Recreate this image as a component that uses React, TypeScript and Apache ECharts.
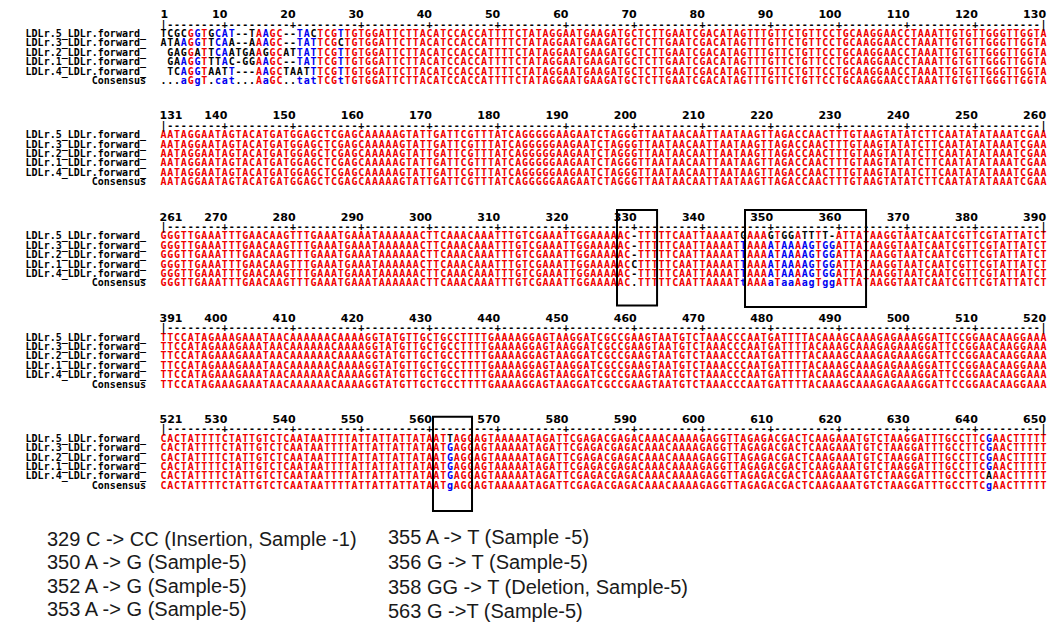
import React, { useEffect, useRef } from "react";
import * as echarts from "echarts";

// ---------- data ----------
const sequenceNames = [
  "LDLr.5_LDLr.forward_",
  "LDLr.3_LDLr.forward_",
  "LDLr.2_LDLr.forward_",
  "LDLr.1_LDLr.forward_",
  "LDLr.4_LDLr.forward_",
];
const consensusName = "Consensus";
const blockStartPositions = [1, 131, 261, 391, 521];

// "|" separates decades; " " = no residue
const block1Tail =
  "GGATTCTTAC|ATCCACCATT|TTCTATAGGA|ATGAAGATGC|TCTTGAATCG|ACATAGTTTG|TTCTGTTCCT|GCAAGGAACC|TAAATTGTGT|TGGGTTGGTA";
const block1Sequences = [
  "TCGCGGTGCA|T--TAAGC--|TACTCGTTGT|" + block1Tail,
  "ATAAGGTTCA|A--AAAGC--|TATTCGCTGT|" + block1Tail,
  " GAGGATTCA|ATGAAGGCAT|TATTCGTTGT|" + block1Tail,
  " GAAGGTTTA|C-GGAAGC--|TATTCGTTGT|" + block1Tail,
  " TCAGGTAAT|T---AAGCTA|ATTTCGTTGT|" + block1Tail,
];
const block1Consensus = "...aGgT.ca|t...AaGC..|tatTCGtTGT|" + block1Tail;

const block2Common =
  "AATAGGAATA|GTACATGATG|GAGCTCGAGC|AAAAAGTATT|GATTCGTTTA|TCAGGGGGAA|GAATCTAGGG|TTAATAACAA|TTAATAAGTT|AGACCAACTT|TGTAAGTATA|TCTTCAATAT|ATAAATCGAA";
const block2Sequences = [block2Common, block2Common, block2Common, block2Common, block2Common];
const block2Consensus = block2Common;

const block3Head = "GGGTTGAAAT|TTGAACAAGT|TTGAAATGAA|ATAAAAAACT|TCAAACAAAT|TTGTCGAAAT|";
const block3End = "|TTATAAGGTA|ATCAATCGTT|CGTATTATCT";
const block3Sequences = [
  block3Head + "TGGAAAAAC-|TTTTTCAATT|AAAATGAAAG|TGGATTTT-A" + block3End,
  block3Head + "TGGAAAAAC-|TTTTTCAATT|AAAATTAAAA|TAAAAGTGGA" + block3End,
  block3Head + "TGGAAAAAC-|TTTTTCAATT|AAAATTAAAA|TAAAAGTGGA" + block3End,
  block3Head + "TGGAAAAACC|TTTTTCAATT|AAAATTAAAA|TAAAAGTGGA" + block3End,
  block3Head + "TGGAAAAAC-|TTTTTCAATT|AAAATTAAAA|TAAAAGTGGA" + block3End,
];
const block3Consensus = block3Head + "TGGAAAAAC.|TTTTTCAATT|AAAATtAAAa|TaaAagTggA" + block3End;

const block4Common =
  "TTCCATAGAA|AGAAATAACA|AAAAACAAAA|GGTATGTTGC|TGCCTTTTGA|AAAGGAGTAA|GGATCGCCGA|AGTAATGTCT|AAACCCAATG|ATTTTACAAA|GCAAAGAGAA|AGGATTCCGG|AACAAGGAAA";
const block4Sequences = [block4Common, block4Common, block4Common, block4Common, block4Common];
const block4Consensus = block4Common;

const block5Head = "CACTATTTTC|TATTGTCTCA|ATAATTTTAT|TATTATTATA|";
const block5Mid = "|AAAATAGATT|CGAGACGAGA|CAAACAAAAG|AGGTTAGAGA|CGACTCAAGA|AATGTCTAAG|GATTTGCCTT|";
const block5Sequences = [
  block5Head + "ATTAGGAGTA" + block5Mid + "CGAACTTTTT",
  block5Head + "ATGAGGAGTA" + block5Mid + "CGAACTTTTT",
  block5Head + "ATGAGGAGTA" + block5Mid + "CGAACTTTTT",
  block5Head + "ATGAGGAGTA" + block5Mid + "CGAACTTTTT",
  block5Head + "ATGAGGAGTA" + block5Mid + "CAAACTTTTT",
];
const block5Consensus = block5Head + "ATgAGGAGTA" + block5Mid + "CgAACTTTTT";

const blockSequences = [block1Sequences, block2Sequences, block3Sequences, block4Sequences, block5Sequences];
const blockConsensus = [block1Consensus, block2Consensus, block3Consensus, block4Consensus, block5Consensus];

// highlighted regions
const highlightBoxes = [
  { block: 2, from: 327.48, to: 333.35, above: 26, below: 69.5 },
  { block: 2, from: 346.24, to: 363.98, above: 26, below: 71 },
  { block: 4, from: 560.51, to: 566.23, above: 21.6, below: 72.7 },
];

const notesLeft = [
  "329 C -> CC (Insertion, Sample -1)",
  "350 A -> G (Sample-5)",
  "352 A -> G (Sample-5)",
  "353 A -> G (Sample-5)",
];
const notesRight = [
  "355 A -> T (Sample -5)",
  "356 G -> T (Sample-5)",
  "358 GG -> T (Deletion, Sample-5)",
  "563 G ->T (Sample-5)",
];

// ---------- layout ----------
const BLOCK_LEN = 130;
const GRID_LEFT = 160;
const GRID_WIDTH = 887;
const CELL_W = GRID_WIDTH / BLOCK_LEN;
const ROW_H = 9.4;
const ROW1_Y = [33.5, 134.7, 235.9, 337.1, 438.3];
const RED = "#f00000";
const BLUE = "#0000f0";
const BLACK = "#000000";
const SEQ_FONT = 'bold 10px "DejaVu Sans Mono"';
const NUM_FONT = 'bold 11px "DejaVu Sans"';
const NOTE_FONT = '20px "Liberation Sans"';

const clean = (s: string) => s.replace(/\|/g, "");

function seqColor(ch: string, cons: string) {
  if (cons === "." || cons === " ") return BLACK;
  if (ch.toUpperCase() !== cons.toUpperCase()) return BLACK;
  return cons === cons.toUpperCase() ? RED : BLUE;
}
function consColor(c: string) {
  if (c === "." || c === " ") return BLACK;
  return c === c.toUpperCase() ? RED : BLUE;
}

const App = () => {
  const ref = useRef<HTMLDivElement>(null);
  useEffect(() => {
    const chart = echarts.init(ref.current!, null, { renderer: "svg" });
    const grids: any[] = [];
    const xAxes: any[] = [];
    const yAxes: any[] = [];
    const series: any[] = [];

    blockStartPositions.forEach((start, b) => {
      const positions = Array.from({ length: BLOCK_LEN }, (_, i) => String(start + i));
      grids.push({
        left: GRID_LEFT,
        width: GRID_WIDTH,
        top: ROW1_Y[b] - 2 * ROW_H - ROW_H / 2,
        height: 8 * ROW_H,
      });
      xAxes.push({ type: "category", gridIndex: b, data: positions, show: false });
      yAxes.push({
        type: "category",
        gridIndex: b,
        inverse: true,
        data: ["position", "ruler", ...sequenceNames, consensusName],
        axisLine: { show: false },
        axisTick: { show: false },
        splitLine: { show: false },
        axisLabel: {
          interval: 0,
          hideOverlap: false,
          margin: 14,
          color: BLACK,
          fontFamily: "DejaVu Sans Mono",
          fontWeight: "bold",
          fontSize: 10,
          lineHeight: 9,
          formatter: (v: string, idx: number) => (idx < 2 ? "" : v),
        },
      });

      // residues
      const cons = clean(blockConsensus[b]);
      const cells: { col: number; row: number; ch: string; color: string }[] = [];
      blockSequences[b].forEach((s, r) => {
        const seq = clean(s);
        for (let i = 0; i < seq.length; i++) {
          const ch = seq[i];
          if (ch === " ") continue;
          cells.push({ col: i, row: r + 2, ch, color: seqColor(ch, cons[i]) });
        }
      });
      for (let i = 0; i < cons.length; i++) {
        if (cons[i] === " ") continue;
        cells.push({ col: i, row: 7, ch: cons[i], color: consColor(cons[i]) });
      }
      series.push({
        type: "custom",
        xAxisIndex: b,
        yAxisIndex: b,
        silent: true,
        data: cells.map((c) => [c.col, c.row]),
        renderItem: (params: any, api: any) => {
          const c = cells[params.dataIndex];
          const p = api.coord([api.value(0), api.value(1)]);
          return {
            type: "text",
            x: p[0],
            y: p[1],
            style: {
              text: c.ch,
              fill: c.color,
              font: SEQ_FONT,
              lineHeight: 9,
              align: "center",
              verticalAlign: "middle",
            },
          };
        },
      });

      // ruler + position numbers
      const ruler = positions.map((_, i) => [i, 1]);
      series.push({
        type: "custom",
        xAxisIndex: b,
        yAxisIndex: b,
        silent: true,
        data: ruler,
        renderItem: (params: any, api: any) => {
          const i = params.dataIndex;
          const pos = start + i;
          const p = api.coord([i, 1]);
          const pn = api.coord([i, 0]);
          const isEnd = i === 0 || i === BLOCK_LEN - 1;
          const ch = isEnd ? "|" : pos % 10 === 0 ? "+" : "-";
          const children: any[] = [
            {
              type: "text",
              x: p[0],
              y: p[1],
              style: { text: ch, fill: BLACK, font: SEQ_FONT, lineHeight: 9, align: "center", verticalAlign: "middle" },
            },
          ];
          if (i === 0) {
            children.push({
              type: "text",
              x: p[0] - CELL_W / 2 - (start === 1 ? -0.5 : 0.5),
              y: pn[1],
              style: { text: String(pos), fill: BLACK, font: NUM_FONT, align: "left", verticalAlign: "middle" },
            });
          } else if (pos % 10 === 0) {
            children.push({
              type: "text",
              x: p[0] + 2.5,
              y: pn[1],
              style: { text: String(pos), fill: BLACK, font: NUM_FONT, align: "right", verticalAlign: "middle" },
            });
          }
          return { type: "group", children };
        },
      });
    });

    const graphics: any[] = [];
    highlightBoxes.forEach((bx) => {
      const start = blockStartPositions[bx.block];
      const x0 = GRID_LEFT + (bx.from - start + 0.5) * CELL_W;
      const x1 = GRID_LEFT + (bx.to - start + 0.5) * CELL_W;
      const y0 = ROW1_Y[bx.block] - bx.above;
      const y1 = ROW1_Y[bx.block] + bx.below;
      graphics.push({
        type: "rect",
        silent: true,
        z: 100,
        shape: { x: x0, y: y0, width: x1 - x0, height: y1 - y0 },
        style: { fill: "none", stroke: "#000", lineWidth: 2 },
      });
    });
    const leftY = [538.5, 562, 585.5, 609];
    const rightY = [537, 562, 587, 610.5];
    notesLeft.forEach((t, i) =>
      graphics.push({
        type: "text",
        x: 47,
        y: leftY[i],
        style: { text: t, fill: "#1a1a1a", font: NOTE_FONT, lineHeight: 20, verticalAlign: "middle" },
      })
    );
    notesRight.forEach((t, i) =>
      graphics.push({
        type: "text",
        x: 388,
        y: rightY[i],
        style: { text: t, fill: "#1a1a1a", font: NOTE_FONT, lineHeight: 20, verticalAlign: "middle" },
      })
    );

    chart.setOption({
      animation: false,
      backgroundColor: "#ffffff",
      grid: grids,
      xAxis: xAxes,
      yAxis: yAxes,
      series,
      graphic: graphics,
    });
    return () => chart.dispose();
  }, []);
  return (
    <div
      ref={ref}
      style={{ position: "fixed", left: 0, top: 0, width: 1052, height: 624, background: "#fff" }}
    />
  );
};

export default App;
